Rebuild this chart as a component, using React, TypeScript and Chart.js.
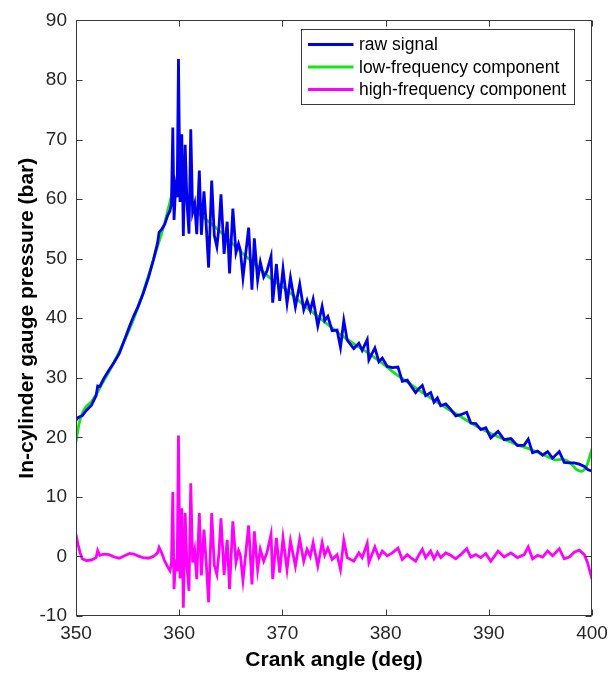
import React, { useEffect, useRef } from "react";
import { Chart, registerables } from "chart.js";

Chart.register(...registerables);

// ---- data ----
const xTicks = [350, 360, 370, 380, 390, 400];
const yTicks = [-10, 0, 10, 20, 30, 40, 50, 60, 70, 80, 90];
const legendLabels = ["raw signal", "low-frequency component", "high-frequency component"];
const xTitle = "Crank angle (deg)";
const yTitle = "In-cylinder gauge pressure (bar)";

// crank angle samples shared by the raw signal and the high-frequency component
const signalAngle = [
  350.0, 350.2, 350.4, 350.6, 351.0, 351.5, 351.95, 352.1, 352.3, 352.7,
  353.2, 353.7, 354.2, 354.7, 355.2, 355.6, 356.0, 356.5, 357.0, 357.5,
  357.9, 358.05, 358.3, 358.6, 358.9, 359.1, 359.25, 359.38, 359.5, 359.65,
  359.8, 359.93, 360.08, 360.25, 360.4, 360.58, 360.75, 360.95, 361.12, 361.3,
  361.5, 361.7, 361.95, 362.15, 362.4, 362.6, 362.85, 363.15, 363.4, 363.65,
  363.85, 364.05, 364.35, 364.65, 364.88, 365.2, 365.5, 365.75, 365.92, 366.18,
  366.73, 367.05, 367.28, 367.6, 367.86, 368.19, 368.5, 368.9, 369.06, 369.42,
  369.74, 370.06, 370.45, 370.78, 371.26, 371.68, 372.07, 372.39, 372.7, 372.98,
  373.43, 373.85, 374.1, 374.4, 374.82, 375.3, 375.63, 375.95, 376.28, 376.92,
  377.41, 377.73, 378.22, 378.38, 378.96, 379.35, 379.68, 380.16, 380.65, 381.2,
  381.62, 382.1, 382.43, 382.91, 383.24, 383.56, 383.88, 384.37, 384.69, 385.02,
  385.34, 385.83, 386.31, 386.8, 387.28, 387.86, 388.25, 388.74, 389.22, 389.71,
  390.19, 390.9, 391.49, 392.14, 392.78, 393.43, 393.82, 394.24, 394.73, 395.21,
  395.7, 396.18, 396.83, 397.31, 397.8, 398.28, 398.77, 399.26, 399.58, 400.0,
];

const rawPressure = [
  22.9, 23.3, 23.5, 23.6, 24.5, 25.4, 27.0, 28.6, 28.5, 29.9,
  31.3, 32.6, 34.1, 36.4, 38.7, 40.4, 41.9, 44.1, 46.7, 49.8,
  52.6, 54.4, 54.9, 55.8, 57.3, 58.0, 59.2, 72.0, 56.5, 61.9,
  60.3, 83.5, 59.5, 70.9, 53.8, 69.1, 59.5, 54.2, 71.7, 57.8,
  59.2, 54.1, 64.8, 54.0, 61.3, 56.1, 48.5, 63.1, 53.9, 52.0,
  55.2, 60.8, 50.8, 56.2, 47.5, 58.4, 51.0, 52.5, 51.5, 46.8,
  55.2, 44.8, 53.4, 46.4, 49.4, 46.9, 47.9, 50.4, 42.6, 49.1,
  42.9, 48.3, 42.5, 46.8, 41.9, 45.7, 41.4, 43.0, 41.3, 43.2,
  38.7, 42.0, 39.6, 40.3, 37.9, 38.0, 35.1, 39.6, 36.3, 34.9,
  35.8, 34.6, 36.4, 33.0, 35.0, 32.7, 33.3, 31.9, 31.7, 31.8,
  29.4, 29.6, 28.7, 27.5, 28.2, 28.7, 27.0, 27.5, 25.9, 26.6,
  25.3, 25.6, 24.7, 23.6, 23.8, 24.2, 22.4, 22.3, 21.3, 21.6,
  19.9, 21.0, 19.6, 19.8, 18.6, 18.7, 19.7, 17.4, 17.7, 17.0,
  17.6, 16.5, 17.6, 15.8, 15.7, 15.7, 15.5, 15.1, 14.6, 14.3,
];

const highPressure = [
  3.7, 2.0, 0.6, -0.4, -0.7, -0.6, -0.2, 1.0, 0.2, 0.4,
  0.3, -0.1, -0.3, 0.1, 0.5, 0.4, 0.1, -0.2, -0.3, 0.0,
  0.6, 1.5, 0.6, -0.8, -1.8, -2.4, -1.2, 10.8, -5.5, -0.5,
  -2.5, 20.3, -3.7, 8.1, -8.6, 7.3, -1.5, -5.8, 12.3, -1.0,
  1.0, -3.8, 7.3, -3.2, 4.5, -0.5, -7.7, 7.3, -1.5, -3.0,
  0.5, 6.4, -3.1, 2.8, -5.5, 5.9, -1.0, 1.0, 0.3, -4.0,
  5.2, -4.7, 4.2, -2.2, 1.2, -0.8, 0.6, 3.7, -3.8, 3.1,
  -2.7, 3.1, -2.2, 2.6, -1.6, 2.9, -0.8, 1.2, 0.0, 2.3,
  -1.6, 2.3, 0.2, 1.4, -0.5, 0.3, -2.2, 2.7, -0.2, -0.8,
  0.6, -0.2, 2.2, -1.0, 1.6, -0.2, 0.9, 0.1, 0.6, 1.4,
  -0.5, 0.3, -0.2, -0.8, 0.3, 1.2, -0.2, 0.9, -0.4, 0.7,
  -0.2, 0.6, 0.2, -0.4, 0.3, 1.3, -0.1, 0.3, -0.2, 0.5,
  -0.8, 0.9, -0.1, 0.6, -0.2, 0.3, 1.6, -0.4, 0.2, -0.1,
  0.9, 0.1, 1.3, -0.4, -0.1, 0.7, 1.05, 0.3, -1.1, -3.8,
];

const lowAngle = [
  350.0, 350.3, 350.6, 351.0, 351.5, 352.0, 352.5, 353.0, 353.5, 354.0,
  354.5, 355.0, 355.5, 356.0, 356.5, 357.0, 357.5, 358.0, 358.5, 359.0,
  359.5, 360.0, 360.5, 361.0, 361.5, 362.0, 363.0, 364.0, 365.0, 366.0,
  367.0, 368.0, 369.0, 370.0, 371.0, 372.0, 373.0, 374.0, 375.0, 376.0,
  377.0, 378.0, 379.0, 380.0, 381.0, 382.0, 383.0, 384.0, 385.0, 386.0,
  387.0, 388.0, 389.0, 390.0, 391.0, 392.0, 393.0, 394.0, 395.0, 396.0,
  396.5, 397.0, 397.5, 398.0, 398.5, 399.0, 399.5, 400.0,
];

const lowPressure = [
  19.2, 22.3, 24.0, 25.2, 26.0, 27.3, 28.9, 30.4, 32.0, 33.7,
  35.5, 37.4, 39.5, 41.8, 44.3, 47.0, 49.8, 52.6, 55.4, 58.8,
  62.0, 63.4, 62.2, 59.8, 58.2, 57.4, 56.0, 54.5, 52.8, 51.1,
  49.6, 48.0, 46.5, 45.3, 43.9, 42.3, 40.9, 39.5, 38.1, 36.8,
  35.6, 34.5, 33.3, 32.0, 30.6, 29.4, 28.2, 27.0, 25.9, 24.8,
  23.8, 22.7, 21.7, 20.8, 20.0, 19.3, 18.6, 18.0, 17.3, 16.5,
  16.2, 16.3, 16.2, 15.5, 14.6, 14.3, 15.3, 18.1,
];

const seriesColors = ["#0000EE", "#14E614", "#FF00FF"];

const FONT = '"Liberation Sans", Arial, Helvetica, sans-serif';

function toXY(xs: number[], ys: number[]) {
  return xs.map((x, i) => ({ x, y: ys[i] }));
}

export default function App() {
  const ref = useRef<HTMLCanvasElement | null>(null);

  useEffect(() => {
    const canvas = ref.current;
    if (!canvas) return;

    const framePlugin = {
      id: "matlabFrame",
      afterDraw(chart: any) {
        const { ctx, chartArea: a, scales } = chart;
        ctx.save();
        const L = Math.round(a.left) + 0.5;
        const R = Math.round(a.right) - 0.5;
        const T = Math.round(a.top) + 0.5;
        const B = Math.round(a.bottom) - 0.5;
        ctx.strokeStyle = "#3a3a3a";
        ctx.lineWidth = 1;
        ctx.strokeRect(L, T, R - L, B - T);
        const tl = 6;
        ctx.beginPath();
        xTicks.forEach((v) => {
          const px = Math.round(scales.x.getPixelForValue(v)) + 0.5;
          ctx.moveTo(px, B);
          ctx.lineTo(px, B - tl);
          ctx.moveTo(px, T);
          ctx.lineTo(px, T + tl);
        });
        yTicks.forEach((v) => {
          const py = Math.round(scales.y.getPixelForValue(v)) + 0.5;
          ctx.moveTo(L, py);
          ctx.lineTo(L + tl, py);
          ctx.moveTo(R, py);
          ctx.lineTo(R - tl, py);
        });
        ctx.stroke();

        // legend box
        const bx = 301.5, by = 29.5, bw = 273, bh = 75;
        ctx.fillStyle = "#ffffff";
        ctx.fillRect(bx, by, bw, bh);
        ctx.strokeStyle = "#3a3a3a";
        ctx.lineWidth = 1;
        ctx.strokeRect(bx, by, bw, bh);
        ctx.font = `17.5px ${FONT}`;
        ctx.textBaseline = "middle";
        ctx.textAlign = "left";
        legendLabels.forEach((lab, i) => {
          const y = by + 15 + i * 22.5;
          ctx.strokeStyle = seriesColors[i];
          ctx.lineWidth = 2.8;
          ctx.beginPath();
          ctx.moveTo(bx + 6.5, y);
          ctx.lineTo(bx + 52, y);
          ctx.stroke();
          ctx.fillStyle = "#000000";
          ctx.fillText(lab, bx + 57.5, y + 1);
        });
        ctx.restore();
      },
    };

    const chart = new Chart(canvas, {
      type: "line",
      data: {
        datasets: [
          {
            label: legendLabels[0],
            data: toXY(signalAngle, rawPressure),
            borderColor: seriesColors[0],
            backgroundColor: seriesColors[0],
            borderWidth: 2.8,
            pointRadius: 0,
            tension: 0,
          },
          {
            label: legendLabels[1],
            data: toXY(lowAngle, lowPressure),
            borderColor: seriesColors[1],
            backgroundColor: seriesColors[1],
            borderWidth: 2.8,
            pointRadius: 0,
            cubicInterpolationMode: "monotone",
          },
          {
            label: legendLabels[2],
            data: toXY(signalAngle, highPressure),
            borderColor: seriesColors[2],
            backgroundColor: seriesColors[2],
            borderWidth: 2.8,
            pointRadius: 0,
            tension: 0,
          },
        ],
      },
      options: {
        responsive: false,
        animation: false,
        devicePixelRatio: 1,
        layout: { padding: { top: 18, right: 22, bottom: 0, left: 0 } },
        plugins: {
          legend: { display: false },
          tooltip: { enabled: false },
        },
        scales: {
          x: {
            type: "linear",
            min: 350,
            max: 400,
            afterBuildTicks: (s: any) => {
              s.ticks = xTicks.map((v) => ({ value: v }));
            },
            afterFit: (s: any) => {
              s.height = 60;
            },
            grid: { display: false, drawTicks: false },
            border: { display: false },
            ticks: {
              color: "#262626",
              font: { family: FONT, size: 19 },
              padding: 6,
              maxRotation: 0,
              autoSkip: false,
            },
            title: {
              display: true,
              text: xTitle,
              color: "#000000",
              font: { family: FONT, size: 21, weight: "bold" },
              padding: { top: 0, bottom: 3 },
            },
          },
          y: {
            type: "linear",
            min: -10,
            max: 90,
            afterBuildTicks: (s: any) => {
              s.ticks = yTicks.map((v) => ({ value: v }));
            },
            afterFit: (s: any) => {
              s.width = 76;
            },
            grid: { display: false, drawTicks: false },
            border: { display: false },
            ticks: {
              color: "#262626",
              font: { family: FONT, size: 19 },
              padding: 9,
              autoSkip: false,
            },
            title: {
              display: true,
              text: yTitle,
              color: "#000000",
              font: { family: FONT, size: 21, weight: "bold" },
              padding: { top: 15, bottom: 0 },
            },
          },
        },
      },
      plugins: [framePlugin],
    } as any);

    return () => chart.destroy();
  }, []);

  return (
    <canvas
      ref={ref}
      width={614}
      height={676}
      style={{ position: "fixed", left: 0, top: 0, width: 614, height: 676, background: "#ffffff" }}
    />
  );
}
